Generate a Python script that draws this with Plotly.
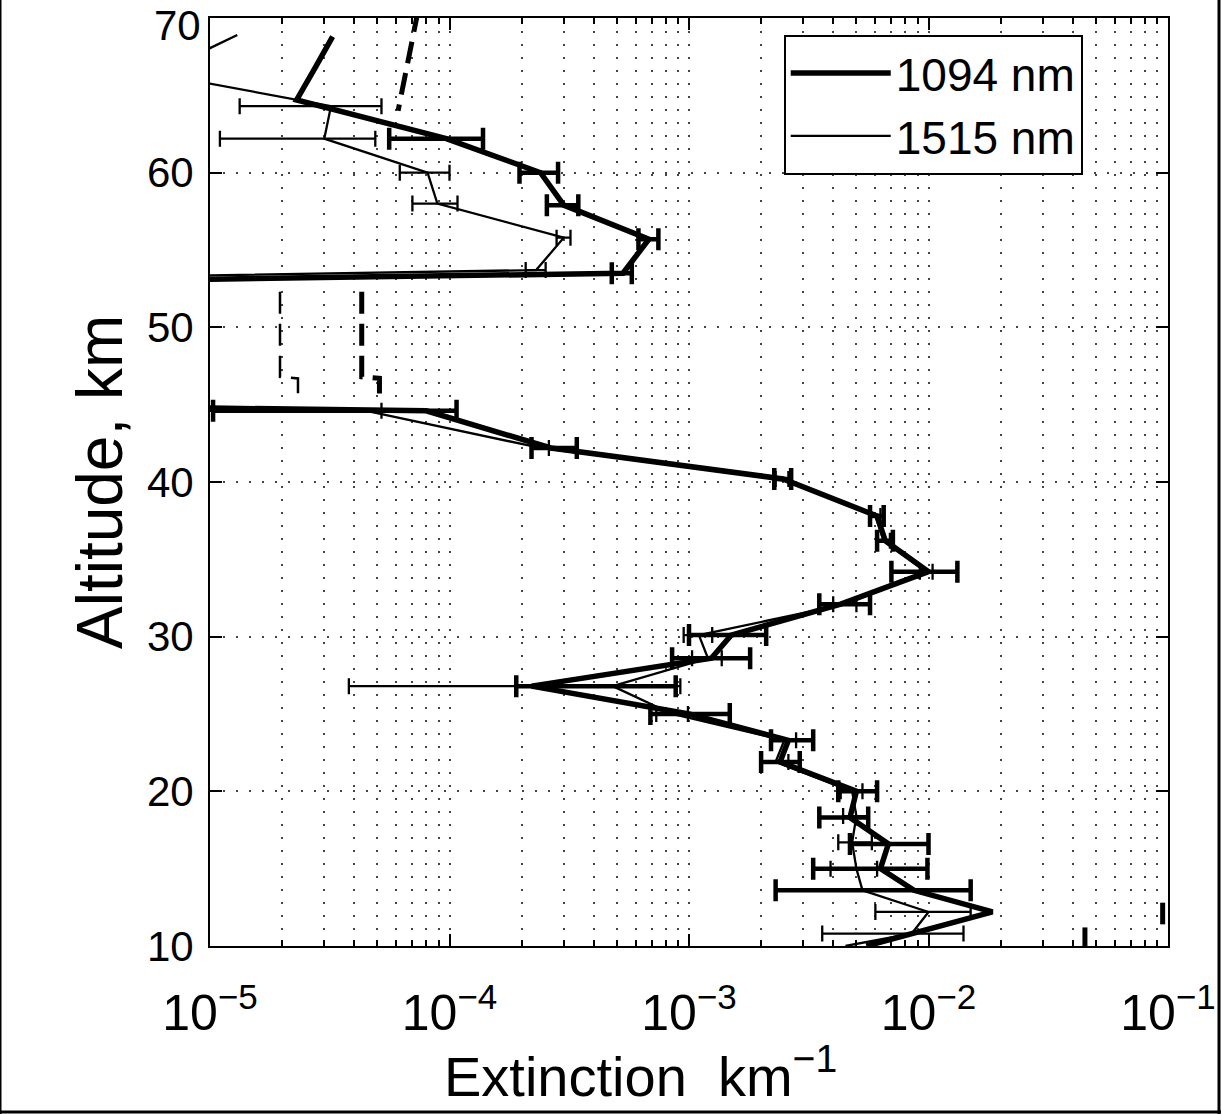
import plotly.graph_objects as go

# ---------------- data ----------------
# 1094 nm profile: altitude (km), extinction (km^-1), error bar minus / plus
alt_1094 = [10.0, 12.2, 13.6, 15.0, 16.6, 18.3, 20.0, 21.9, 23.3, 25.0, 26.8, 28.6, 30.1, 32.1,
            34.2, 36.2, 37.8, 40.2, 42.2, 44.6, 46.4, 51.3, 53.5, 55.7, 57.9, 60.0, 62.2, 64.7,
            66.8, 68.8]
ext_1094 = [5.5e-3, 1.85e-2, 8.7e-3, 6.3e-3, 6.8e-3, 4.7e-3, 5.0e-3, 2.4e-3, 2.6e-3, 1.0e-3,
            2.2e-4, 1.24e-3, 1.5e-3, 4.3e-3, 1.0e-2, 6.6e-3, 6.1e-3, 2.47e-3, 2.65e-4, 8.0e-5,
            1e-13, 1e-13, 5.3e-4, 6.8e-4, 3.0e-4, 2.4e-4, 9.7e-5, 2.3e-5, 2.75e-5, 3.25e-5]
errlo_1094 = [None, None, 6.4e-3, 3.0e-3, 2.1e-3, 1.2e-3, 0.8e-3, 0.4e-3, 0.4e-3, 3.1e-4,
              0.3e-4, 3.9e-4, 5.0e-4, 0.8e-3, 0.3e-2, 0.5e-3, 0.4e-3, 0.2e-3, 0.45e-4, 6.97e-5,
              None, None, 0.54e-4, 0.65e-4, 0.45e-4, 0.44e-4, 4.1e-5, None, None, None]
errhi_1094 = [None, None, 6.3e-3, 3.6e-3, 3.2e-3, 0.9e-3, 1.1e-3, 0.5e-3, 0.7e-3, 4.8e-4,
              6.6e-4, 5.6e-4, 6.0e-4, 1.4e-3, 0.32e-2, 0.5e-3, 0.4e-3, 0.2e-3, 0.75e-4, 2.7e-5,
              None, None, 0.47e-4, 0.65e-4, 0.45e-4, 0.44e-4, 4.1e-5, None, None, None]

# 1515 nm profile
alt_1515 = [10.0, 10.8, 12.2, 13.6, 15.0, 16.7, 18.4, 20.0, 21.9, 23.3, 25.0, 26.8, 28.6, 30.1,
            32.1, 34.2, 36.2, 37.8, 40.2, 42.2, 44.6, 46.4, 51.4, 53.7, 55.8, 58.0, 60.0, 62.2,
            64.3, 66.4, 68.9]
ext_1515 = [4.5e-3, 8.5e-3, 1.0e-2, 5.3e-3, 5.0e-3, 4.8e-3, 5.0e-3, 4.8e-3, 2.3e-3, 2.5e-3,
            8.5e-4, 4.8e-4, 1.2e-3, 1.1e-3, 4.5e-3, 9.8e-3, 6.5e-3, 6.0e-3, 2.45e-3, 2.4e-4,
            4.5e-5, 1e-13, 1e-13, 2.3e-4, 3.0e-4, 8.9e-5, 8.1e-5, 3.0e-5, 3.2e-5, 6e-6, 1.3e-5]
errlo_1515 = [None, 4.9e-3, 4.0e-3, None, 1.1e-3, 0.6e-3, 0.6e-3, 0.5e-3, 0.3e-3, 0.3e-3,
              1.2e-4, 4.42e-4, 1.7e-4, 1.5e-4, 0.5e-3, 0.6e-3, 0.4e-3, 0.3e-3, 0.15e-3, 0.2e-4,
              3.7e-5, None, None, 0.22e-4, 0.2e-4, 1.9e-5, 1.9e-5, 1.9e-5, 1.87e-5, None, None]
errhi_1515 = [None, 5.5e-3, 5.0e-3, None, 1.1e-3, 1.0e-3, 0.6e-3, 0.5e-3, 0.3e-3, 0.3e-3,
              1.4e-4, 4.4e-4, 1.7e-4, 1.5e-4, 0.5e-3, 0.6e-3, 0.4e-3, 0.3e-3, 0.15e-3, 0.2e-4,
              0.7e-5, None, None, 0.22e-4, 0.2e-4, 1.9e-5, 1.9e-5, 1.9e-5, 2.0e-5, None, None]

# dashed reference levels (thick and thin)
alt_lim_thick = [70.5, 64.0, None, 52.3, 46.8, 46.7, 45.4, None, 12.8, 11.4, None, 11.2, 9.8]
ext_lim_thick = [7.4e-5, 6.1e-5, None, 4.3e-5, 4.3e-5, 5.1e-5, 5.1e-5, None, 9.5e-2, 9.5e-2,
                 None, 4.5e-2, 4.5e-2]
alt_lim_thin = [52.3, 46.8, 46.7, 45.4]
ext_lim_thin = [1.96e-5, 1.96e-5, 2.33e-5, 2.33e-5]

x_tickvals = [1e-5, 1e-4, 1e-3, 1e-2, 1e-1]
x_ticktext = ["10<sup>−5</sup>", "10<sup>−4</sup>", "10<sup>−3</sup>",
              "10<sup>−2</sup>", "10<sup>−1</sup>"]
x_minor = [k * 10.0 ** e for e in range(-5, -1) for k in range(2, 10)]
y_tickvals = [10, 20, 30, 40, 50, 60, 70]
y_ticktext = ["10", "20", "30", "40", "50", "60", "70"]

# ---------------- figure ----------------
FONT = "Liberation Sans, Arial, Helvetica, sans-serif"
W, H = 1221, 1114
ML, MR, MT, MB = 210, 53, 18, 168
PW, PH = W - ML - MR, H - MT - MB


def only_with_errors(alt, ext, lo, hi):
    keep = [i for i in range(len(alt)) if lo[i] is not None or hi[i] is not None]
    return ([alt[i] for i in keep], [ext[i] for i in keep],
            [lo[i] or 0 for i in keep], [hi[i] or 0 for i in keep])


fig = go.Figure()

fig.add_trace(go.Scatter(
    x=ext_lim_thick, y=alt_lim_thick, mode="lines", showlegend=False,
    line=dict(color="black", width=5, dash="22px,10px"), connectgaps=False))
fig.add_trace(go.Scatter(
    x=ext_lim_thin, y=alt_lim_thin, mode="lines", showlegend=False,
    line=dict(color="black", width=2.5, dash="22px,10px")))

for name, alt, ext, lo, hi, lw, ew, cap in [
        ("1094 nm", alt_1094, ext_1094, errlo_1094, errhi_1094, 5.5, 4.5, 11),
        ("1515 nm", alt_1515, ext_1515, errlo_1515, errhi_1515, 2.3, 2.3, 8)]:
    fig.add_trace(go.Scatter(
        x=ext, y=alt, mode="lines", name=name,
        line=dict(color="black", width=lw)))
    ea, ee, el, eh = only_with_errors(alt, ext, lo, hi)
    fig.add_trace(go.Scatter(
        x=ee, y=ea, mode="markers", showlegend=False, hoverinfo="skip",
        marker=dict(size=1, color="rgba(0,0,0,0)"),
        error_x=dict(type="data", symmetric=False, array=eh, arrayminus=el,
                     color="black", thickness=ew, width=cap)))

grid = dict(gridcolor="#444444", gridwidth=2, griddash="2px,11px")

fig.update_xaxes(
    type="log", range=[-5, -1], tickvals=x_tickvals, ticktext=x_ticktext,
    ticks="inside", ticklen=12, tickwidth=2, tickcolor="black",
    showline=True, linecolor="black", linewidth=2, mirror="ticks",
    showgrid=True, zeroline=False, automargin=False, **grid,
    minor=dict(tickvals=x_minor, ticks="inside", ticklen=6, tickwidth=1.5,
               tickcolor="black", showgrid=True, **grid),
    tickfont=dict(family=FONT, size=50, color="black"),
    ticklabelstandoff=22,
)
# the top label (70) sits at the very edge of the page, where plotly hides it;
# it is written as an annotation at the same place instead
fig.update_yaxes(
    range=[9.999, 70.001], tickvals=y_tickvals,
    ticktext=y_ticktext[:-1] + [""],
    ticks="inside", ticklen=12, tickwidth=2, tickcolor="black",
    showline=True, linecolor="black", linewidth=2, mirror="ticks",
    showgrid=True, zeroline=False, automargin=False, **grid,
    tickfont=dict(family=FONT, size=42, color="black"),
    ticklabelstandoff=6,
)
fig.add_annotation(text=y_ticktext[-1], xref="paper", yref="paper",
                   x=-8 / PW, y=1 + (MT - 1) / PH, xanchor="right", yanchor="top",
                   borderpad=0, showarrow=False,
                   font=dict(family=FONT, size=42, color="black"))

fig.add_annotation(text="Extinction  km<sup>−1</sup>", xref="paper", yref="paper",
                   x=(640 - ML) / PW, y=-(1072 - MT - PH) / PH, xanchor="center",
                   yanchor="middle", showarrow=False,
                   font=dict(family=FONT, size=56, color="black"))
fig.add_annotation(text="Altitude, km", xref="paper", yref="paper",
                   x=(100 - ML) / PW, y=1 - (482 - MT) / PH, xanchor="center",
                   yanchor="middle", textangle=-90, showarrow=False,
                   font=dict(family=FONT, size=64, color="black"))

# frame around the whole picture
for (x0, y0, x1, y1) in [(-ML / PW, -MB / PH, -ML / PW, 1 + MT / PH),
                         (1 + (MR - 2) / PW, -MB / PH, 1 + (MR - 2) / PW, 1 + MT / PH),
                         (-ML / PW, -(MB - 2) / PH, 1 + MR / PW, -(MB - 2) / PH)]:
    fig.add_shape(type="line", xref="paper", yref="paper", x0=x0, y0=y0, x1=x1, y1=y1,
                  line=dict(color="black", width=3))

fig.update_layout(
    width=W, height=H,
    margin=dict(l=ML, r=MR, t=MT, b=MB),
    paper_bgcolor="white", plot_bgcolor="white",
    font=dict(family=FONT, color="black"),
    legend=dict(x=0.911, y=0.982, xanchor="right", yanchor="top",
                bgcolor="white", bordercolor="black", borderwidth=2,
                font=dict(family=FONT, size=46, color="black"),
                itemwidth=100, tracegroupgap=0),
)

fig.write_html("out.html")
